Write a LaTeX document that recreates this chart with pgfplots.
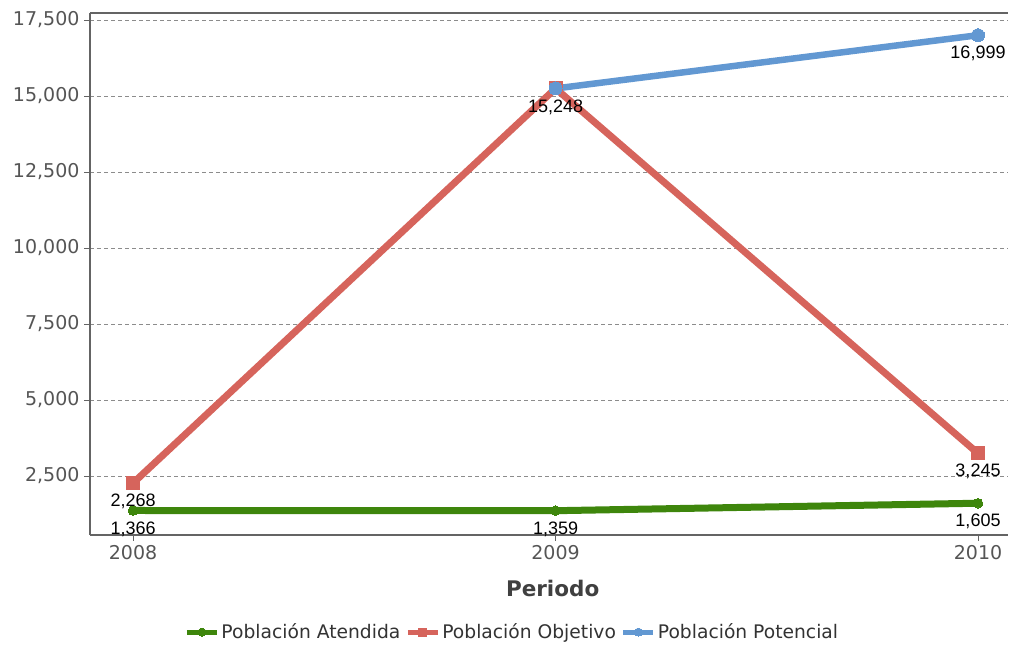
\documentclass[border=0pt]{standalone}
\usepackage{pgfplots}
\pgfplotsset{compat=1.18}
\usepackage{fontspec}
\setmainfont{DejaVu Sans}
\newfontfamily\lab{Liberation Sans}
\definecolor{cgreen}{RGB}{62,134,12}
\definecolor{cred}{RGB}{214,100,92}
\definecolor{cblue}{RGB}{98,152,210}
\definecolor{tickgray}{RGB}{85,85,85}
\definecolor{framegray}{RGB}{100,100,100}
\definecolor{gridgray}{RGB}{140,140,140}
\begin{document}
\begin{tikzpicture}[x=1pt,y=1pt]
\path[use as bounding box] (0,0) rectangle (1010,645);
\begin{axis}[
  at={(90pt,110pt)}, anchor=south west,
  scale only axis, width=918pt, height=522pt,
  xmin=2007.898, xmax=2010.071, ymin=560, ymax=17730,
  axis lines*=left,
  axis line style={framegray, line width=1.2pt, -},
  xtick={2008,2009,2010}, xticklabels={2008,2009,2010},
  ytick={2500,5000,7500,10000,12500,15000,17500},
  scaled y ticks=false,
  /pgf/number format/.cd, fixed, 1000 sep={,}, assume math mode=true,
  /pgfplots/.cd,
  tick align=outside, major tick length=6pt,
  tick style={framegray, line width=0.8pt},
  ticklabel style={font=\fontsize{19}{22}\selectfont, text=tickgray},
  xticklabel style={yshift=-1pt},
  yticklabel style={xshift=-1pt},
  ymajorgrids,
  grid style={gridgray, dash pattern=on 4pt off 3pt, line width=0.8pt},
  xlabel={Periodo},
  xlabel style={at={(axis description cs:0.504,-0.102)}, anchor=center,
    font=\bfseries\fontsize{21.5}{25}\selectfont, text=black!75},
  legend style={at={(axis description cs:0.46,-0.186)}, anchor=center, draw=none,
    font=\fontsize{18.7}{22}\selectfont, text=black!80, legend columns=-1,
    /tikz/every even column/.append style={column sep=3pt}, inner sep=0pt},
  legend image code/.code={%
    \draw[mark repeat=2,mark phase=2,#1] plot coordinates {(0pt,0pt)(15pt,0pt)(30pt,0pt)};},
  legend image post style={line width=5pt, mark size=4pt},
  nodes near coords,
  point meta=explicit symbolic,
  every node near coord/.append style={anchor=north, yshift=-11pt, inner sep=0pt,
    font=\lab\fontsize{18}{21}\selectfont, text=black},
  clip=false,
]
\addplot[cgreen, line width=7pt, mark=*, mark size=4.8pt, mark options={line width=0pt}]
  coordinates {(2008,1366)[1,366] (2009,1359)[1,359] (2010,1605)[1,605]};
\addlegendentry{Población Atendida}
\addplot[cred, line width=7pt, mark=square*, mark size=6.5pt, mark options={line width=0pt}]
  coordinates {(2008,2268)[2,268] (2009,15248)[15,248] (2010,3245)[3,245]};
\addlegendentry{Población Objetivo}
\addplot[cblue, line width=6.5pt, mark=*, mark size=6.5pt, mark options={line width=0pt}]
  coordinates {(2009,15248)[] (2010,16999)[16,999]};
\addlegendentry{Población Potencial}
\draw[framegray, line width=1.2pt] (rel axis cs:0,1) -- (rel axis cs:1,1);
\end{axis}
\end{tikzpicture}
\end{document}
